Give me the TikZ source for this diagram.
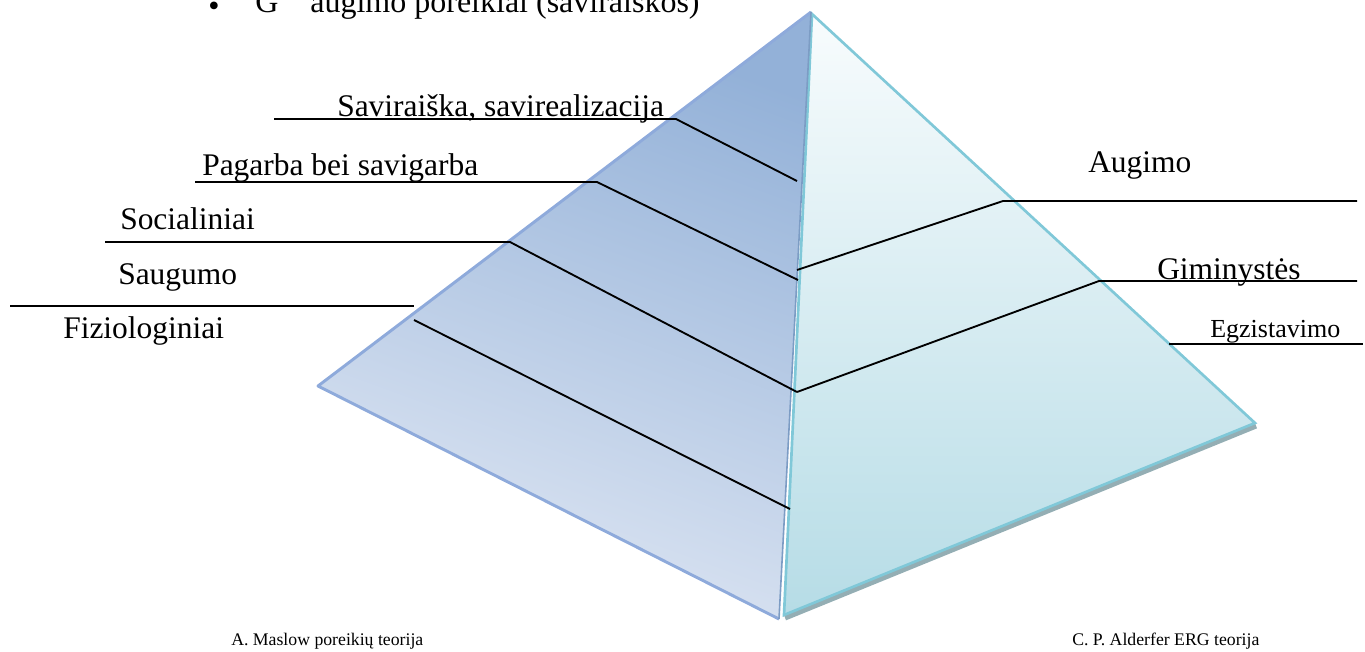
\documentclass[tikz,border=0pt]{standalone}
\usepackage{fontspec}
\setmainfont{Liberation Serif}
\definecolor{maslowTop}{HTML}{93B1D8}
\definecolor{maslowBot}{HTML}{DEE6F3}
\definecolor{maslowEdge}{HTML}{8EAADB}
\definecolor{maslowSeam}{HTML}{7C9CC4}
\definecolor{ergTop}{HTML}{F8FCFD}
\definecolor{ergBot}{HTML}{B6DCE6}
\definecolor{ergEdge}{HTML}{80C8D8}
\definecolor{ergShadow}{HTML}{94AEB4}
\tikzset{
  leader/.style={line width=1.4pt, black, line join=miter},
  lbl/.style={anchor=base west, inner sep=0pt, font=\fontsize{23.6}{28}\selectfont},
  smalllbl/.style={anchor=base west, inner sep=0pt, font=\fontsize{19.5}{23}\selectfont},
  caption/.style={anchor=base west, inner sep=0pt, font=\fontsize{13.3}{16}\selectfont},
  toptext/.style={anchor=base west, inner sep=0pt, font=\fontsize{24}{28}\selectfont}
}
\begin{document}
\begin{tikzpicture}[x=0.75pt, y=-0.75pt]
\useasboundingbox (0,0) rectangle (1365,651);

% pyramid corners
\coordinate (apex) at (811,12);
\coordinate (lcorner) at (318,386);
\coordinate (lbase) at (779,619);
\coordinate (rapex) at (812,14);
\coordinate (rcorner) at (1255,423);
\coordinate (rbase) at (784,615);

% ERG face with its drop shadow
\fill[ergShadow] (rbase) -- (rcorner) -- ([xshift=1.5pt,yshift=-4pt]rcorner) -- ([xshift=1.5pt,yshift=-4pt]rbase) -- cycle;
\shade[top color=ergTop, bottom color=ergBot] (rapex) -- (rcorner) -- (rbase) -- cycle;
\draw[ergEdge, line width=2pt] (rapex) -- (rcorner) -- (rbase) -- cycle;

% Maslow face
\shade[top color=maslowTop, bottom color=maslowBot, shading angle=-20] (apex) -- (lcorner) -- (lbase) -- cycle;
\draw[maslowEdge, line width=2.2pt, line join=round] (apex) -- (lcorner) -- (lbase);
\draw[maslowSeam, line width=1.2pt] (apex) -- (lbase);

% leader line points
\coordinate (s1) at (274,119); \coordinate (s2) at (676,119); \coordinate (s3) at (797,181);
\coordinate (p1) at (195,182); \coordinate (p2) at (597,182); \coordinate (p3) at (798,280);
\coordinate (c1) at (105,242); \coordinate (c2) at (510,242); \coordinate (c3) at (797,392);
\coordinate (h1) at (10,306);  \coordinate (h2) at (414,306);
\coordinate (f1) at (414,320); \coordinate (f2) at (790,509);
\coordinate (a1) at (797,270); \coordinate (a2) at (1003,201); \coordinate (a3) at (1357,201);
\coordinate (g2) at (1099,281); \coordinate (g3) at (1357,281);
\coordinate (e1) at (1169,344); \coordinate (e2) at (1363,344);

% Maslow levels
\draw[leader] (s1) -- (s2) -- (s3);
\draw[leader] (p1) -- (p2) -- (p3);
\draw[leader] (c1) -- (c2) -- (c3);
\draw[leader] (h1) -- (h2);
\draw[leader] (f1) -- (f2);

% ERG levels
\draw[leader] (a1) -- (a2) -- (a3);
\draw[leader] (c3) -- (g2) -- (g3);
\draw[leader] (e1) -- (e2);

% labels
\node[lbl] (tSavi) at (337,116) {Saviraiška, savirealizacija};
\node[lbl] (tPag) at (202,175) {Pagarba bei savigarba};
\node[lbl] (tSoc) at (120,229) {Socialiniai};
\node[lbl] (tSaug) at (118,284) {Saugumo};
\node[lbl] (tFiz) at (63,338) {Fiziologiniai};
\node[lbl] (tAug) at (1088,172) {Augimo};
\node[lbl] (tGim) at (1157,279) {Giminystės};
\node[smalllbl] (tEgz) at (1210,337) {Egzistavimo};

\node[caption] (capL) at (231,645) {A. Maslow poreikių teorija};
\node[caption] (capR) at (1072,645) {C. P. Alderfer ERG teorija};

% list item running off the top edge
\node[toptext] (bul) at (208,16) {•};
\node[toptext] (topline) at (255,12) {G\hspace{1em}augimo poreikiai (saviraiškos)};
\end{tikzpicture}
\end{document}
